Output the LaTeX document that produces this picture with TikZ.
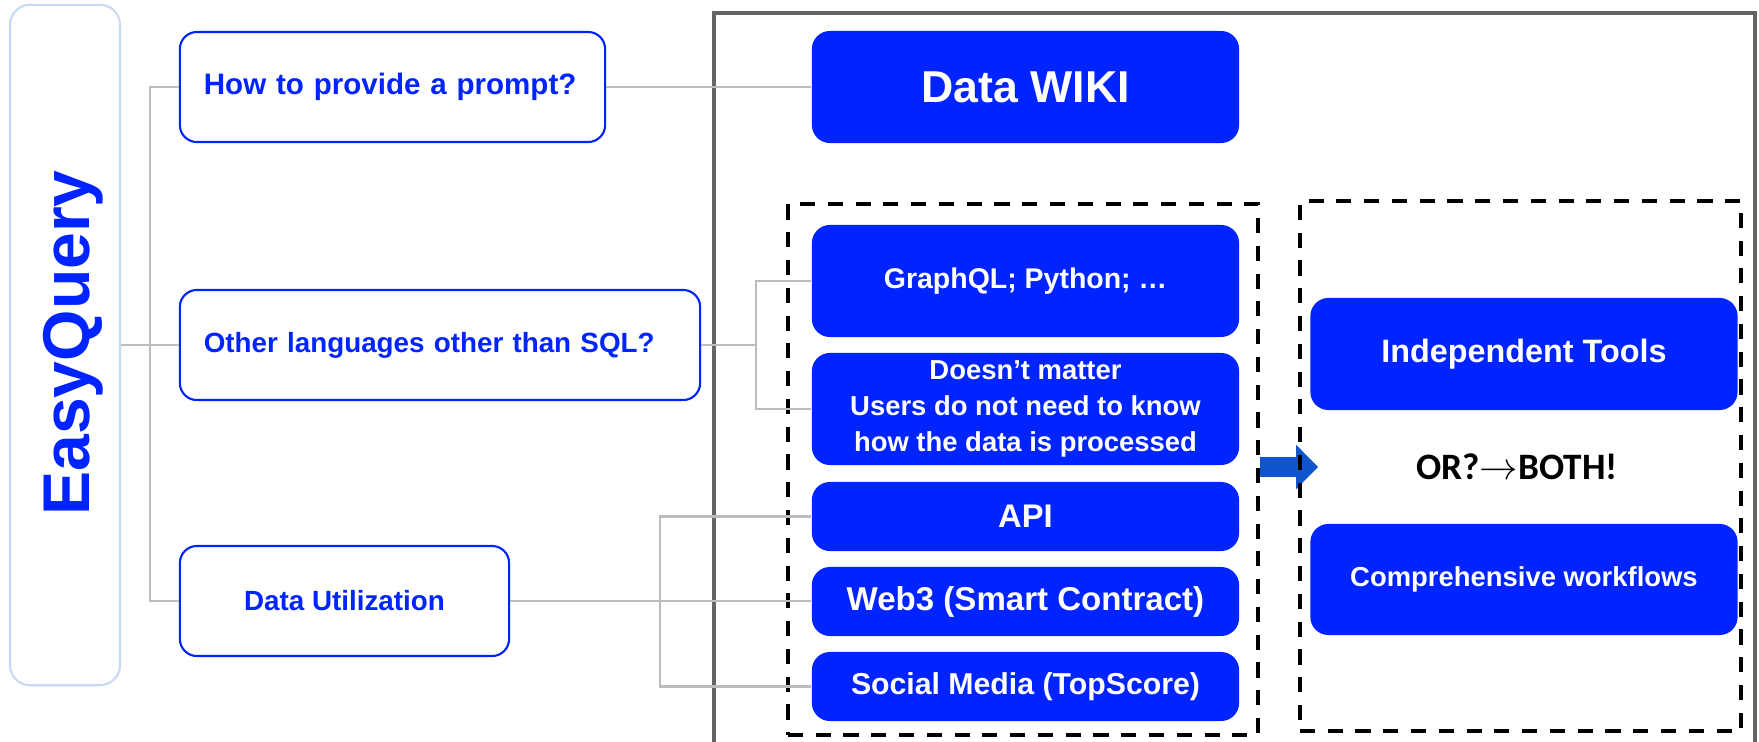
\documentclass[tikz,border=0pt]{standalone}
\usepackage{fontspec}
\setmainfont{Liberation Sans}
\newfontfamily\calfont{Carlito}
\usetikzlibrary{arrows.meta,backgrounds}

\definecolor{qblue}{RGB}{0,36,255}
\definecolor{easyline}{RGB}{200,217,246}
\definecolor{linegray}{RGB}{188,188,188}
\definecolor{framegray}{RGB}{100,100,100}
\definecolor{arrowblue}{RGB}{17,85,204}

\tikzset{
  question/.style={draw=qblue, line width=0.6pt, rounded corners=0.17cm, fill=white,
    text=qblue, minimum height=1.1cm},
  tool/.style={fill=qblue, rounded corners=0.18cm, text=white, align=center,
    minimum width=4.27cm},
  link/.style={draw=linegray, line width=0.6pt},
  group/.style={draw=black, line width=1.14pt, dash pattern=on 4.3pt off 3.6pt}
}

\begin{document}
\begin{tikzpicture}[x=0.01cm, y=-0.01cm]
\useasboundingbox (0,0) rectangle (1759,742);

% title bar on the left
\node[draw=easyline, line width=0.6pt, rounded corners=0.2cm, minimum width=1.1cm, minimum height=6.8cm] (easy) at (65,345) {};
\node[rotate=90, text=qblue, font=\bfseries\fontsize{18.8}{20}\selectfont] (easytitle) at (73.5,343) {EasyQuery};

% the three questions
\node[question, text width=3.77cm, inner xsep=0.24cm, align=left, font=\bfseries\fontsize{8.4}{10}\selectfont] (prompt) at (392.5,87) {How to provide a prompt?};
\node[question, text width=4.72cm, inner xsep=0.24cm, align=left, font=\bfseries\fontsize{7.9}{10}\selectfont] (lang) at (440,345) {Other languages other than SQL?};
\node[question, minimum width=3.29cm, font=\bfseries\fontsize{7.9}{10}\selectfont] (util) at (344.5,601) {Data Utilization};

% outer frame, open at the bottom
\draw[framegray, line width=1.14pt] (714,760) -- (714,13) -- (1755,13) -- (1755,760);

% answers
\node[tool, minimum height=1.12cm, font=\bfseries\fontsize{12.7}{14}\selectfont] (wiki) at (1025.5,87) {Data WIKI};
\node[tool, minimum height=1.12cm, font=\bfseries\fontsize{8.1}{10}\selectfont] (graphql) at (1025.5,281) {GraphQL; Python; …};
\node[tool, minimum height=1.12cm, inner sep=0pt, font=\bfseries\fontsize{7.8}{10.2}\selectfont] (nomatter) at (1025.5,409) {Doesn’t matter\\Users do not need to know\\how the data is processed};
\node[tool, minimum height=0.69cm, font=\bfseries\fontsize{9.3}{11}\selectfont] (api) at (1025.5,516.5) {API};
\node[tool, minimum height=0.69cm, font=\bfseries\fontsize{9.4}{11}\selectfont] (web3) at (1025.5,601.5) {Web3 (Smart Contract)};
\node[tool, minimum height=0.69cm, font=\bfseries\fontsize{8.6}{11}\selectfont] (social) at (1025.5,686.5) {Social Media (TopScore)};

\node[tool, minimum height=1.12cm, font=\bfseries\fontsize{9.2}{11}\selectfont] (tools) at (1524,354) {Independent Tools};
\node[font=\calfont\bfseries\fontsize{10.6}{12}\selectfont] (orboth) at (1517,467) {OR?$\rightarrow$BOTH!};
\node[tool, minimum height=1.11cm, font=\bfseries\fontsize{7.8}{10}\selectfont] (flows) at (1524,579.5) {Comprehensive workflows};

% dashed groups
\node[group, minimum width=4.70cm, minimum height=5.31cm] (langgrp) at (1023,469.5) {};
\node[group, minimum width=4.41cm, minimum height=5.30cm] (modegrp) at (1520.5,466) {};

\begin{pgfonlayer}{background}
\draw[arrowblue, line width=0.2cm, -{Triangle[length=0.22cm, width=0.43cm]}] (langgrp.east |- orboth) -- ++(58,0);
\end{pgfonlayer}

% connectors
\coordinate (trunk) at (150,345);
\coordinate (fork) at (756,345);
\coordinate (split) at (660,601);
\draw[link] (easy) -- (lang);
\draw[link] (prompt.west) -| (trunk) |- (util.west);
\draw[link] (prompt) -- (wiki);
\draw[link] (lang.east) -- (fork);
\draw[link] (graphql.west) -| (fork) |- (nomatter.west);
\draw[link] (util.east) -- (util.east -| web3.west);
\draw[link] (api.west) -| (split) |- (social.west);
\end{tikzpicture}
\end{document}
